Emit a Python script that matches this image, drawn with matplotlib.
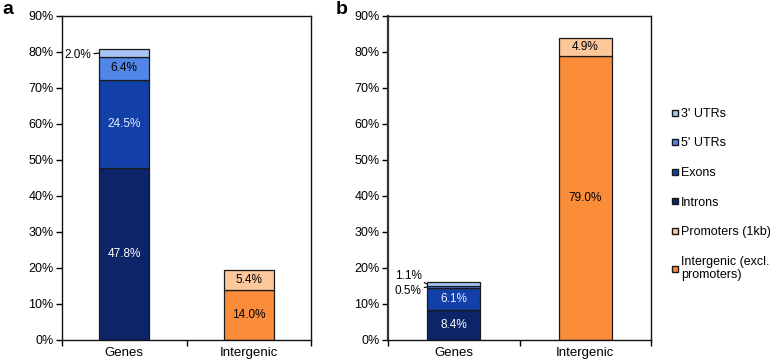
import numpy as np
import matplotlib.pyplot as plt

plt.rcParams['font.family'] = ['Liberation Sans', 'DejaVu Sans']

categories = ["Genes", "Intergenic"]
series = ["Introns", "Exons", "5' UTRs", "3' UTRs"]
inter_series = ["Intergenic (excl.\npromoters)", "Promoters (1kb)"]

# panel a
a_genes = [47.8, 24.5, 6.4, 2.0]
a_inter = [14.0, 5.4]
# panel b
b_genes = [8.4, 6.1, 0.5, 1.1]
b_inter = [79.0, 4.9]

gene_colors = ["#0c2468", "#1340a8", "#4f86e8", "#a9c4f4"]
inter_colors = ["#fb8c3a", "#fcc79b"]
gene_text = ["white", "#e8eeff", "black", "black"]

fig = plt.figure(figsize=(7.77, 3.62), dpi=100)
axa = fig.add_axes([62/777, 22/362, 249/777, 324/362])
axb = fig.add_axes([388/777, 22/362, 263/777, 324/362])

width = 0.4


def stack(ax, x, vals, colors, txtcols, inside):
    bottom = 0
    for i, v in enumerate(vals):
        ax.bar(x, v, width, bottom=bottom, color=colors[i],
               edgecolor="#1a1a1a", linewidth=0.9, zorder=2)
        if inside[i]:
            ax.text(x, bottom + v / 2, f"{v:.1f}%", ha="center", va="center",
                    fontsize=8.5, color=txtcols[i], zorder=3)
        bottom += v
    return bottom


def setup(ax):
    ax.set_xlim(-0.5, 1.5)
    ax.set_ylim(0, 90)
    ax.set_yticks(np.arange(0, 91, 10))
    ax.set_yticklabels([f"{t}%" for t in range(0, 91, 10)])
    ax.set_xticks([0, 1])
    ax.set_xticklabels(categories)
    ax.set_xticks([-0.5, 0.5, 1.5], minor=True)
    ax.tick_params(axis="x", which="major", length=0, pad=5, labelsize=9.5)
    ax.tick_params(axis="x", which="minor", length=4, width=1)
    ax.tick_params(axis="y", length=4, width=1, labelsize=9, pad=2)
    for s in ax.spines.values():
        s.set_linewidth(1)
        s.set_color("#111111")


# panel a
stack(axa, 0, a_genes, gene_colors, gene_text, [True, True, True, False])
stack(axa, 1, a_inter, inter_colors, ["black", "black"], [True, True])
top_a = sum(a_genes) - a_genes[3] / 2
axa.annotate(f"{a_genes[3]:.1f}%", xy=(-0.2, top_a), xytext=(-0.48, top_a - 0.6),
             fontsize=8.5, va="center", ha="left",
             arrowprops=dict(arrowstyle="-", color="black", lw=0.8, shrinkA=0, shrinkB=0))
setup(axa)

# panel b
stack(axb, 0, b_genes, gene_colors, gene_text, [True, True, False, False])
stack(axb, 1, b_inter, inter_colors, ["black", "black"], [True, True])
y3 = sum(b_genes) - b_genes[3] / 2
y5 = b_genes[0] + b_genes[1] + b_genes[2] / 2
axb.annotate(f"{b_genes[3]:.1f}%", xy=(-0.2, y3), xytext=(-0.45, 17.8),
             fontsize=8.5, va="center", ha="left",
             arrowprops=dict(arrowstyle="-", color="black", lw=0.8, shrinkA=0, shrinkB=0))
axb.annotate(f"{b_genes[2]:.1f}%", xy=(-0.2, y5), xytext=(-0.45, 13.6),
             fontsize=8.5, va="center", ha="left",
             arrowprops=dict(arrowstyle="-", color="black", lw=0.8, shrinkA=0, shrinkB=0))
setup(axb)
axb.spines["left"].set_linewidth(1.6)
axb.spines["left"].set_color("#333333")

# legend
handles = []
labels = []
for name, col in zip(series[::-1], gene_colors[::-1]):
    handles.append(plt.Line2D([], [], marker="s", ls="", markersize=5,
                              markerfacecolor=col, markeredgecolor="#1a1a1a", markeredgewidth=1))
    labels.append(name)
for name, col in zip(inter_series[::-1], inter_colors[::-1]):
    handles.append(plt.Line2D([], [], marker="s", ls="", markersize=5,
                              markerfacecolor=col, markeredgecolor="#1a1a1a", markeredgewidth=1))
    labels.append(name)
fig.legend(handles, labels, loc="upper left", bbox_to_anchor=(672/777, 1 - 108/362),
           frameon=False, fontsize=9, handlelength=0.5, handletextpad=0.25,
           labelspacing=1.4, borderpad=0, borderaxespad=0)

fig.text(2/777, 1 - 10/362, "a", fontsize=14, fontweight="bold", va="center")
fig.text(336/777, 1 - 10/362, "b", fontsize=14, fontweight="bold", va="center")

fig.savefig("out.png", dpi=100)
